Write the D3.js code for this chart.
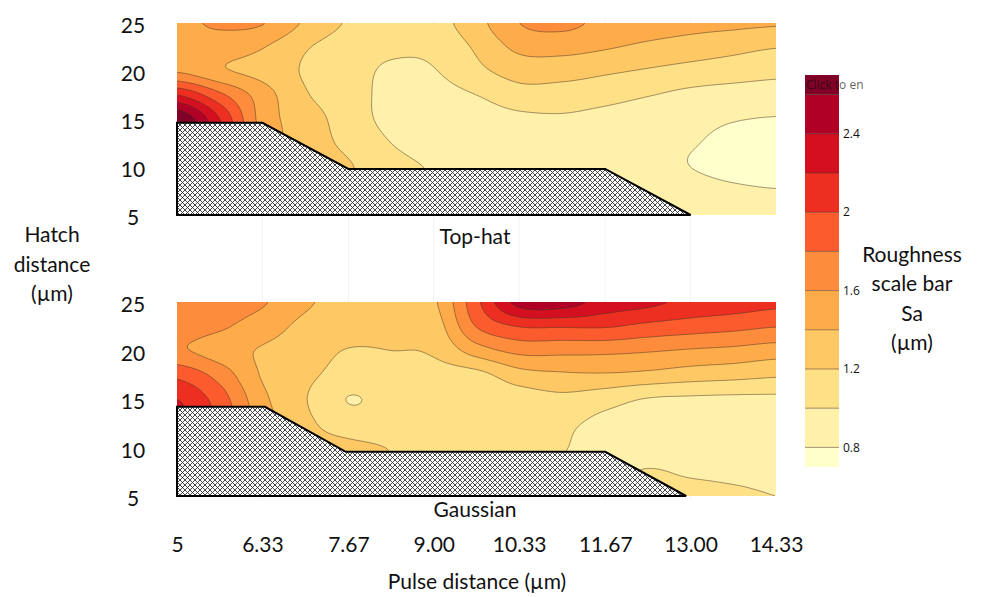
<!DOCTYPE html>
<html>
<head>
<meta charset="utf-8">
<script src="https://cdn.jsdelivr.net/npm/d3@7"></script>
<style>
body { margin: 0; background: #fff; }
svg text { font-family: Lato, "Open Sans", sans-serif; fill: #111; }
</style>
</head>
<body>
<script>
// grille de mesure : distance entre impulsions (colonnes) et distance de hachurage (lignes)
var pulse = [5, 5.67, 6.33, 7, 7.67, 8.33, 9, 9.67, 10.33, 11, 11.67, 12.33, 13, 13.67, 14.33];
var hatch = [25, 22.5, 20, 17.5, 15, 12.5, 10, 7.5, 5];

// rugosité Sa (µm), faisceau top-hat
var topHat = [
	[1.55, 1.63, 1.61, 1.37, 1.18, 1.10, 1.12, 1.33, 1.60, 1.65, 1.55, 1.50, 1.46, 1.44, 1.42],
	[1.52, 1.50, 1.41, 1.22, 1.10, 1.04, 1.05, 1.23, 1.45, 1.47, 1.42, 1.36, 1.31, 1.26, 1.21],
	[1.58, 1.43, 1.33, 1.18, 1.08, 0.97, 0.99, 1.15, 1.28, 1.28, 1.23, 1.18, 1.13, 1.09, 1.05],
	[2.20, 1.85, 1.50, 1.22, 1.08, 0.95, 0.93, 1.00, 1.12, 1.11, 1.07, 1.01, 0.95, 0.92, 0.91],
	[2.80, 2.20, 1.52, 1.31, 1.10, 0.95, 0.90, 0.90, 0.95, 0.97, 0.93, 0.88, 0.85, 0.81, 0.79],
	[2.80, 2.20, 1.55, 1.32, 1.15, 1.00, 0.92, 0.88, 0.87, 0.86, 0.85, 0.83, 0.81, 0.76, 0.73],
	[2.70, 2.10, 1.60, 1.35, 1.22, 1.07, 0.98, 0.90, 0.88, 0.87, 0.86, 0.84, 0.80, 0.75, 0.72],
	[2.50, 2.00, 1.60, 1.35, 1.20, 1.08, 1.00, 0.93, 0.90, 0.89, 0.88, 0.88, 0.86, 0.83, 0.81],
	[2.40, 2.00, 1.60, 1.35, 1.20, 1.08, 1.00, 0.95, 0.92, 0.91, 0.90, 0.90, 0.90, 0.90, 0.90]
];

// rugosité Sa (µm), faisceau gaussien
var gaussian = [
	[1.72, 1.70, 1.62, 1.43, 1.33, 1.30, 1.37, 1.95, 2.48, 2.50, 2.32, 2.25, 2.15, 2.10, 2.05],
	[1.70, 1.63, 1.50, 1.35, 1.30, 1.28, 1.30, 1.81, 2.01, 2.02, 2.02, 1.95, 1.90, 1.86, 1.81],
	[1.63, 1.50, 1.38, 1.30, 1.19, 1.20, 1.23, 1.50, 1.66, 1.66, 1.65, 1.62, 1.58, 1.55, 1.50],
	[1.95, 1.72, 1.38, 1.25, 1.12, 1.12, 1.12, 1.14, 1.32, 1.37, 1.38, 1.35, 1.30, 1.27, 1.23],
	[2.20, 1.90, 1.45, 1.21, 0.995, 1.07, 1.08, 1.07, 1.10, 1.15, 1.08, 0.99, 0.97, 0.96, 0.96],
	[2.25, 1.95, 1.50, 1.25, 1.10, 1.08, 1.07, 1.05, 1.06, 1.04, 0.95, 0.92, 0.91, 0.91, 0.91],
	[2.25, 1.95, 1.50, 1.30, 1.25, 1.19, 1.10, 1.05, 1.05, 1.01, 0.93, 0.92, 0.91, 0.91, 0.91],
	[2.20, 1.90, 1.50, 1.35, 1.30, 1.20, 1.10, 1.05, 1.03, 0.99, 0.96, 1.01, 0.98, 0.96, 0.94],
	[2.20, 1.90, 1.50, 1.35, 1.30, 1.20, 1.10, 1.05, 1.03, 1.01, 1.02, 1.04, 1.05, 1.03, 1.00]
];

var levels = [0.8, 1.0, 1.2, 1.4, 1.6, 1.8, 2.0, 2.2, 2.4, 2.6];
var barRange = [0.7, 2.7];
var barTicks = [0.8, 1.2, 1.6, 2, 2.4];

var xTicks = [5, 6.33, 7.67, 9, 10.33, 11.67, 13, 14.33];
var xTickLabels = ["5", "6.33", "7.67", "9.00", "10.33", "11.67", "13.00", "14.33"];
var yTicks = [5, 10, 15, 20, 25];

// zone hachurée (non mesurée)
var zoneTopX = [5, 6.33, 7.67, 11.67, 13, 5];
var zoneTopY = [14.6, 14.6, 9.8, 9.8, 5, 5];
var zoneGaussX = [5, 6.37, 7.63, 11.67, 12.93, 5];
var zoneGaussY = [14.2, 14.2, 9.55, 9.55, 5, 5];

// palette YlOrRd
var ylOrRd = ["#ffffcc", "#ffeda0", "#fed976", "#feb24c", "#fd8d3c", "#fc4e2a", "#e31a1c", "#bd0026", "#800026"];

var w = 982;
var h = 597;
var plotX0 = 177, plotX1 = 776;
var lineColor = "rgba(70,50,35,0.5)";

var stops = d3.scaleLinear()
	.domain(d3.range(ylOrRd.length).map(function(i) { return i / (ylOrRd.length - 1); }))
	.range(ylOrRd);
var bandColor = d3.range(levels.length + 1).map(function(k) { return stops(k / levels.length); });

var svg = d3.select("body")
	.append("svg")
	.attr("width", w)
	.attr("height", h);

var defs = svg.append("defs");

var pat = defs.append("pattern")
	.attr("id", "croix")
	.attr("patternUnits", "userSpaceOnUse")
	.attr("width", 5)
	.attr("height", 5);
pat.append("rect").attr("width", 5).attr("height", 5).attr("fill", "#fff");
pat.append("path")
	.attr("d", "M0,0L5,5M5,0L0,5")
	.attr("stroke", "#333")
	.attr("stroke-width", 0.9);

var x = d3.scaleLinear().domain([5, 14.33]).range([plotX0, plotX1]);

// lignes de grille pâles (visibles entre les deux panneaux)
svg.append("g")
	.selectAll("line")
	.data(xTicks.slice(1, -1))
	.join("line")
	.attr("x1", function(d) { return x(d); })
	.attr("x2", function(d) { return x(d); })
	.attr("y1", 20)
	.attr("y2", 500)
	.attr("stroke", "#f1f3f5")
	.attr("stroke-width", 1);

function cr(p0, p1, p2, p3, t) {
	return p1 + 0.5 * t * (p2 - p0 + t * (2 * p0 - 5 * p1 + 4 * p2 - p3 + t * (3 * (p1 - p2) + p3 - p0)));
}

function bicubic(g, fx, fy) {
	var nr = g.length, nc = g[0].length;
	fx = Math.max(0, Math.min(nc - 1, fx));
	fy = Math.max(0, Math.min(nr - 1, fy));
	var ix = Math.min(nc - 2, Math.floor(fx)), iy = Math.min(nr - 2, Math.floor(fy));
	var tx = fx - ix, ty = fy - iy;
	function at(r, c) {
		r = Math.max(0, Math.min(nr - 1, r));
		c = Math.max(0, Math.min(nc - 1, c));
		return g[r][c];
	}
	var rows = [];
	for (var k = -1; k <= 2; k++) {
		rows.push(cr(at(iy + k, ix - 1), at(iy + k, ix), at(iy + k, ix + 1), at(iy + k, ix + 2), tx));
	}
	return cr(rows[0], rows[1], rows[2], rows[3], ty);
}

var colIdx = d3.scaleLinear().domain([pulse[0], pulse[pulse.length - 1]]).range([0, pulse.length - 1]);
var rowIdx = d3.scaleLinear().domain([hatch[0], hatch[hatch.length - 1]]).range([0, hatch.length - 1]);

var panels = [
	{ id: "th", titre: "Top-hat", grid: topHat, y0: 23, y1: 215, zx: zoneTopX, zy: zoneTopY, titreY: 244 },
	{ id: "ga", titre: "Gaussian", grid: gaussian, y0: 302, y1: 496, zx: zoneGaussX, zy: zoneGaussY, titreY: 517 }
];

panels.forEach(function(p) {
	var y = d3.scaleLinear().domain([5, 25]).range([p.y1, p.y0]);

	defs.append("clipPath")
		.attr("id", "clip-" + p.id)
		.append("rect")
		.attr("x", plotX0)
		.attr("y", p.y0)
		.attr("width", plotX1 - plotX0)
		.attr("height", p.y1 - p.y0);

	// grille fine pour les contours
	var cell = 3, pad = 6;
	var nx = Math.ceil((plotX1 - plotX0 + 2 * pad) / cell);
	var ny = Math.ceil((p.y1 - p.y0 + 2 * pad) / cell);
	var values = new Array(nx * ny);
	for (var j = 0; j < ny; j++) {
		var fy = rowIdx(y.invert(p.y0 - pad + (j + 0.5) * cell));
		for (var i = 0; i < nx; i++) {
			var fx = colIdx(x.invert(plotX0 - pad + (i + 0.5) * cell));
			values[j * nx + i] = bicubic(p.grid, fx, fy);
		}
	}

	var contours = d3.contours().size([nx, ny]).thresholds(levels)(values);
	var path = d3.geoPath(d3.geoIdentity().scale(cell).translate([plotX0 - pad, p.y0 - pad]));

	var g = svg.append("g").attr("clip-path", "url(#clip-" + p.id + ")");

	g.append("rect")
		.attr("x", plotX0)
		.attr("y", p.y0)
		.attr("width", plotX1 - plotX0)
		.attr("height", p.y1 - p.y0)
		.attr("fill", bandColor[0]);

	g.selectAll(".bande")
		.data(contours)
		.join("path")
		.attr("class", "bande")
		.attr("d", path)
		.attr("fill", function(d, i) { return bandColor[i + 1]; });

	g.selectAll(".iso")
		.data(contours)
		.join("path")
		.attr("class", "iso")
		.attr("d", path)
		.attr("fill", "none")
		.attr("stroke", lineColor)
		.attr("stroke-width", 1);

	// zone hachurée
	var zone = p.zx.map(function(v, k) { return [v, p.zy[k]]; });
	svg.append("path")
		.datum(zone)
		.attr("d", d3.line().x(function(d) { return x(d[0]); }).y(function(d) { return y(d[1]); }).curve(d3.curveLinearClosed))
		.attr("fill", "url(#croix)")
		.attr("stroke", "#000")
		.attr("stroke-width", 2)
		.attr("stroke-linejoin", "miter");

	// axe Y
	var yAxis = svg.append("g")
		.attr("transform", "translate(133,3)")
		.call(d3.axisLeft(y).tickValues(yTicks).tickSize(0).tickPadding(0));
	yAxis.select(".domain").remove();
	yAxis.selectAll("text")
		.attr("text-anchor", "middle")
		.style("font-size", "21px")
		.style("font-family", "Lato, sans-serif")
		.attr("fill", "#111");

	svg.append("text")
		.text(p.titre)
		.attr("x", 475)
		.attr("y", p.titreY)
		.attr("text-anchor", "middle")
		.style("font-size", "21px");
});

// axe X
var xAxis = svg.append("g")
	.attr("transform", "translate(0,537)")
	.call(d3.axisBottom(x).tickValues(xTicks).tickFormat(function(d, i) { return xTickLabels[i]; }).tickSize(0).tickPadding(0));
xAxis.select(".domain").remove();
xAxis.selectAll("text")
	.style("font-size", "21px")
	.style("font-family", "Lato, sans-serif")
	.attr("fill", "#111");

svg.append("text")
	.text("Pulse distance (µm)")
	.attr("x", 477)
	.attr("y", 589)
	.attr("text-anchor", "middle")
	.style("font-size", "21px");

var hatchTitle = svg.append("text")
	.attr("text-anchor", "middle")
	.style("font-size", "21px");
["Hatch", "distance", "(µm)"].forEach(function(t, i) {
	hatchTitle.append("tspan").attr("x", 52).attr("y", 242 + i * 29.5).text(t);
});

// barre d'échelle
var bar = d3.scaleLinear().domain(barRange).range([467, 75]);
var edges = [barRange[0]].concat(levels, [barRange[1]]);
var barX = 805, barW = 34;

svg.append("g")
	.selectAll("rect")
	.data(d3.range(edges.length - 1))
	.join("rect")
	.attr("x", barX)
	.attr("width", barW)
	.attr("y", function(k) { return bar(edges[k + 1]); })
	.attr("height", function(k) { return bar(edges[k]) - bar(edges[k + 1]); })
	.attr("fill", function(k) { return bandColor[k]; });

svg.append("g")
	.selectAll("line")
	.data(levels)
	.join("line")
	.attr("x1", barX)
	.attr("x2", barX + barW)
	.attr("y1", function(d) { return bar(d); })
	.attr("y2", function(d) { return bar(d); })
	.attr("stroke", lineColor)
	.attr("stroke-width", 1);

svg.append("g")
	.selectAll("text")
	.data(barTicks)
	.join("text")
	.attr("x", barX + barW + 4)
	.attr("y", function(d) { return bar(d); })
	.attr("dy", "0.35em")
	.text(function(d) { return d; })
	.style("font-family", "'Open Sans', sans-serif")
	.style("font-size", "12px")
	.attr("fill", "#506784");

defs.append("clipPath")
	.attr("id", "coupe")
	.append("rect")
	.attr("x", 790).attr("y", 60).attr("width", 73).attr("height", 40);

svg.append("text")
	.attr("clip-path", "url(#coupe)")
	.attr("x", 806)
	.attr("y", 89)
	.text("Click to enter Colorscale title")
	.style("font-family", "'Open Sans', sans-serif")
	.style("font-size", "12px")
	.attr("fill", "#b4b8c4")
	.attr("fill-opacity", 0.7);

var barTitle = svg.append("text")
	.attr("text-anchor", "middle")
	.style("font-size", "21px");
["Roughness", "scale bar", "Sa", "(µm)"].forEach(function(t, i) {
	barTitle.append("tspan").attr("x", 912).attr("y", 262 + i * 29.3).text(t);
});
</script>
</body>
</html>
